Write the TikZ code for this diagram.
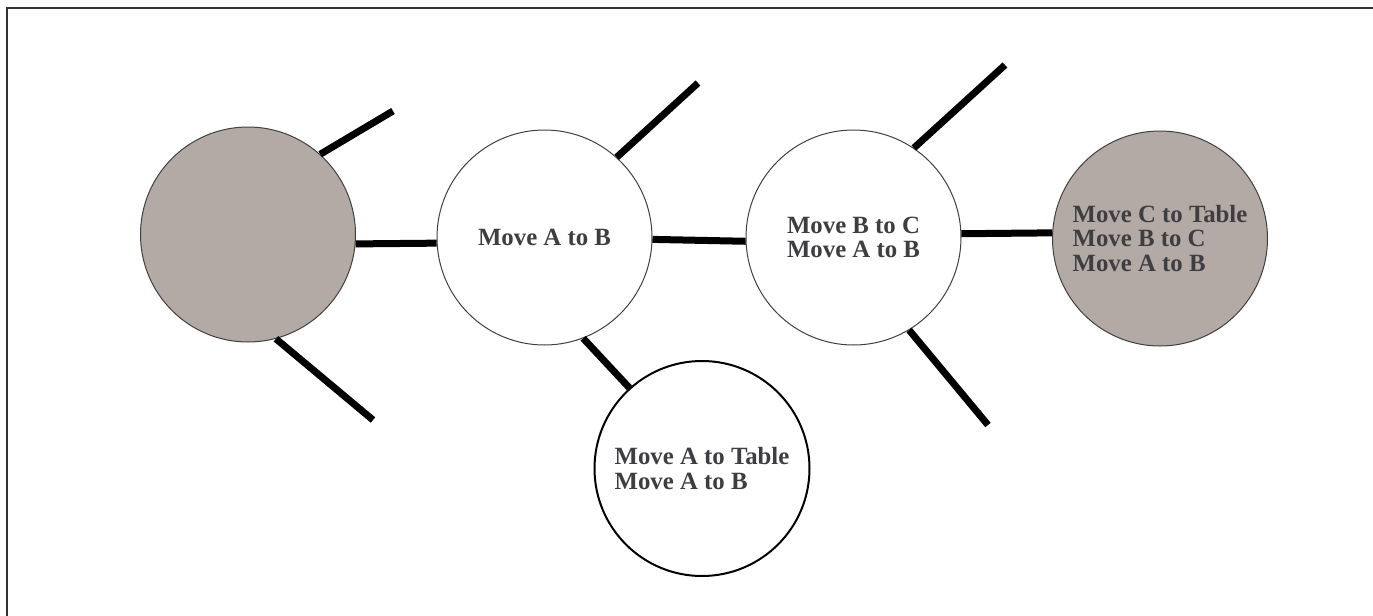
\documentclass[tikz,border=0pt]{standalone}
\usepackage{fontspec}
\setmainfont{Liberation Serif}
\usetikzlibrary{positioning}
\definecolor{plangrey}{RGB}{179,169,165}
\definecolor{plantext}{RGB}{62,62,66}
\tikzset{
	plan/.style={
		circle,
		draw=black!75, line width=0.5pt,
		fill=white,
		minimum size=107.5pt,
		inner sep=0pt,
		align=left,
		text=plantext,
		font=\fontsize{12.4}{12.2}\selectfont\bfseries},
	greyplan/.style={plan, fill=plangrey},
	sideplan/.style={plan, draw=black, line width=1pt},
	branch/.style={draw, line width=3.5pt},
}
\begin{document}
\begin{tikzpicture}
	[x=0.5pt, y=-0.5pt]
	\useasboundingbox (0,0) rectangle (1373,616);
	\draw[line width=1pt, black!80] (7,616) -- (7,8) -- (1373,8);
	
	\node[greyplan] (start) at (248,234.5) {};
	\node[plan] (eins) at (544.5,237.5) {Move A to B};
	\node[plan] (zwei) at (853.5,237.5) {Move B to C\\Move A to B};
	\node[greyplan] (drei) at (1160,238.5) {Move C to Table\\Move B to C\\Move A to B};
	\node[sideplan] (neben) at (702,468.5) {Move A to Table\\Move A to B};
	
	% loose ends
	\coordinate (start-o) at (393,111);
	\coordinate (start-u) at (373,420);
	\coordinate (eins-o) at (698,83);
	\coordinate (zwei-o) at (1005,65);
	\coordinate (zwei-u) at (988,425);
	
	\draw[branch] (start.48.5) -- (start-o);
	\draw[branch] (start.-75.6) -- (start-u);
	\draw[branch] (start.-5) -- (eins.183.5);
	\draw[branch] (eins.48.4) -- (eins-o);
	\draw[branch] (eins.-1.9) -- (zwei.182);
	\draw[branch] (eins.-69) -- (neben.132.6);
	\draw[branch] (zwei.56) -- (zwei-o);
	\draw[branch] (zwei.2.4) -- (drei.177);
	\draw[branch] (zwei.-59.5) -- (zwei-u);
	
\end{tikzpicture}
\end{document}
